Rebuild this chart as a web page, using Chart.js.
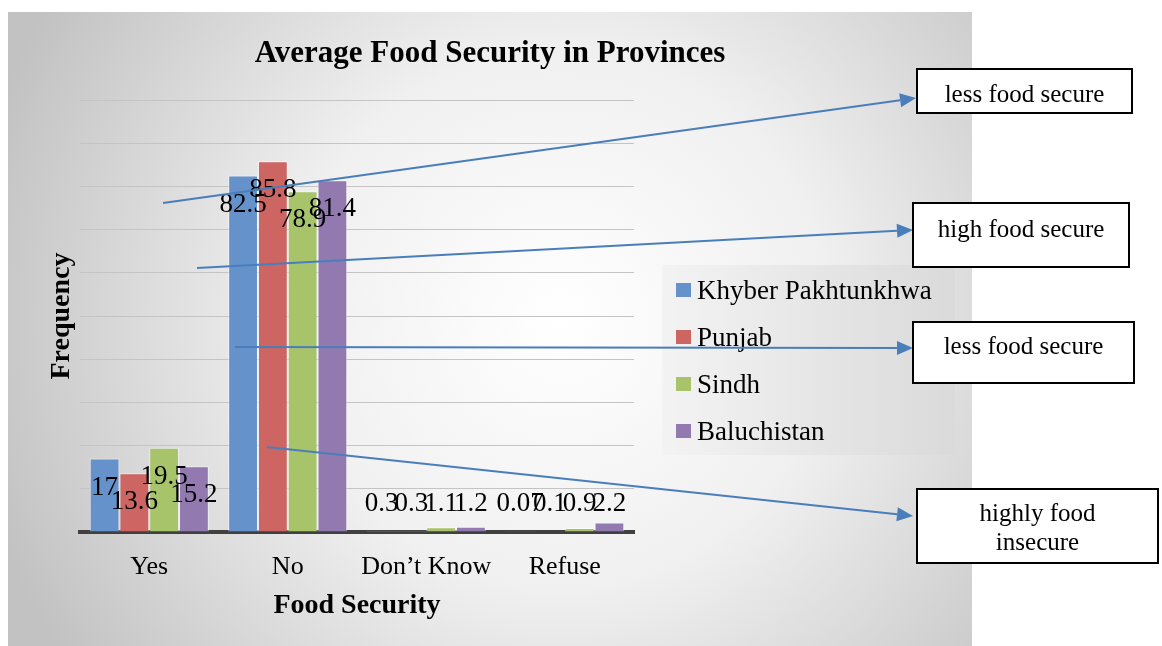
<!DOCTYPE html>
<html>
<head>
<meta charset="utf-8">
<script src="https://cdn.jsdelivr.net/npm/chart.js@4/dist/chart.umd.min.js"></script>
<style>
  html, body { margin: 0; padding: 0; background: #fff; }
  canvas { display: block; }
</style>
</head>
<body>
<canvas id="chart" width="1162" height="646"></canvas>
<script>
const categories = ['Yes', 'No', 'Don\u2019t Know', 'Refuse'];
const provinces = ['Khyber Pakhtunkhwa', 'Punjab', 'Sindh', 'Baluchistan'];
const khyber = [17, 82.5, 0.3, 0.07];
const punjab = [13.6, 85.8, 0.3, 0.1];
const sindh = [19.5, 78.9, 1.1, 0.9];
const baluchistan = [15.2, 81.4, 1.2, 2.2];
const notes = [['less food secure'], ['high food secure'], ['less food secure'], ['highly food', 'insecure']];

const colors = ['#6592cb', '#cd6562', '#a8c46b', '#9279b0'];
const serif = '"Liberation Serif", "DejaVu Serif", serif';

// gray panel behind the chart
const background = {
  id: 'background',
  beforeDraw(chart) {
    const {ctx} = chart;
    ctx.save();
    ctx.fillStyle = '#fff';
    ctx.fillRect(0, 0, chart.width, chart.height);
    const g = ctx.createRadialGradient(560, 320, 0, 560, 320, 600);
    g.addColorStop(0, '#ffffff');
    g.addColorStop(0.45, '#f0f0f0');
    g.addColorStop(1, '#c2c2c2');
    ctx.fillStyle = g;
    ctx.fillRect(8, 12, 964, 634);
    ctx.restore();
  }
};

// values, legend, arrows and text boxes
const extras = {
  id: 'extras',
  afterDraw(chart) {
    const {ctx} = chart;
    const base = chart.scales.y.getPixelForValue(0);
    ctx.save();

    ctx.font = '27px ' + serif;
    ctx.fillStyle = '#000';
    ctx.textAlign = 'center';
    ctx.textBaseline = 'middle';
    chart.data.datasets.forEach((ds, i) => {
      chart.getDatasetMeta(i).data.forEach((bar, j) => {
        const y = Math.min(bar.y + 29, base - 28);
        ctx.fillText(String(ds.data[j]), bar.x, y);
      });
    });

    // legend
    const lg = ctx.createLinearGradient(662, 0, 955, 0);
    lg.addColorStop(0, '#f3f3f3');
    lg.addColorStop(1, '#dadada');
    ctx.fillStyle = lg;
    ctx.fillRect(662, 265, 293, 190);
    ctx.textAlign = 'left';
    chart.data.datasets.forEach((ds, i) => {
      const y = 290 + i * 47;
      ctx.fillStyle = ds.backgroundColor;
      ctx.fillRect(676, y - 7, 15, 14);
      ctx.fillStyle = '#000';
      ctx.fillText(ds.label, 697, y + 2);
    });

    // arrows
    const arrows = [[163, 203, 916, 98], [197, 268, 913, 230], [235, 347, 913, 348], [267, 447, 913, 516]];
    ctx.strokeStyle = '#4a7ebb';
    ctx.fillStyle = '#4a7ebb';
    ctx.lineWidth = 2;
    arrows.forEach(([x1, y1, x2, y2]) => {
      const a = Math.atan2(y2 - y1, x2 - x1);
      const len = 16, w = 7;
      const bx = x2 - len * Math.cos(a), by = y2 - len * Math.sin(a);
      ctx.beginPath();
      ctx.moveTo(x1, y1);
      ctx.lineTo(bx, by);
      ctx.stroke();
      ctx.beginPath();
      ctx.moveTo(x2, y2);
      ctx.lineTo(bx + w * Math.sin(a), by - w * Math.cos(a));
      ctx.lineTo(bx - w * Math.sin(a), by + w * Math.cos(a));
      ctx.closePath();
      ctx.fill();
    });

    // boxes
    const boxes = [[917, 69, 215, 44, 95], [913, 203, 216, 64, 230], [913, 322, 221, 61, 347], [917, 489, 241, 74, 514]];
    ctx.font = '25px ' + serif;
    ctx.textAlign = 'center';
    boxes.forEach(([x, y, w, h, ty], i) => {
      ctx.fillStyle = '#fff';
      ctx.fillRect(x, y, w, h);
      ctx.strokeStyle = '#000';
      ctx.lineWidth = 2;
      ctx.strokeRect(x, y, w, h);
      ctx.fillStyle = '#000';
      notes[i].forEach((line, k) => ctx.fillText(line, x + w / 2, ty + k * 29));
    });
    ctx.restore();
  }
};

const series = [khyber, punjab, sindh, baluchistan];

new Chart(document.getElementById('chart'), {
  type: 'bar',
  data: {
    labels: categories,
    datasets: series.map((d, i) => ({
      label: provinces[i],
      data: d,
      backgroundColor: colors[i],
      borderColor: 'rgba(255,255,255,0.55)',
      borderWidth: 1,
      categoryPercentage: 0.86,
      barPercentage: 1,
    })),
  },
  options: {
    responsive: false,
    animation: false,
    layout: {padding: {left: 8, right: 190, top: 12, bottom: 0}},
    plugins: {
      legend: {display: false},
      tooltip: {enabled: false},
      title: {
        display: true,
        text: 'Average Food Security in Provinces',
        color: '#000',
        font: {family: serif, size: 31, weight: 'bold', lineHeight: 1.2},
        padding: {top: 23.4, bottom: 27.4},
      },
    },
    scales: {
      x: {
        grid: {display: false, drawTicks: false},
        border: {display: true, color: '#404040', width: 4},
        ticks: {color: '#000', padding: 20, font: {family: serif, size: 26, lineHeight: 1.2}},
        title: {
          display: true,
          text: 'Food Security',
          color: '#000',
          font: {family: serif, size: 28, weight: 'bold', lineHeight: 1.2},
          padding: {top: 0, bottom: 23},
        },
        afterFit(s) { s.height = 114; },
      },
      y: {
        min: 0,
        max: 100,
        ticks: {display: false, stepSize: 10},
        grid: {color: '#c4c4c4', drawTicks: false},
        border: {display: false},
        title: {
          display: true,
          text: 'Frequency',
          color: '#000',
          font: {family: serif, size: 28, weight: 'bold', lineHeight: 1.2},
          padding: {top: 37, bottom: 0},
        },
        afterFit(s) { s.width = 72; },
      },
      side: {
        position: 'right',
        grid: {display: false},
        ticks: {display: false},
        border: {display: false},
        afterFit(s) { s.width = 338; },
      },
    },
  },
  plugins: [background, extras],
});
</script>
</body>
</html>
